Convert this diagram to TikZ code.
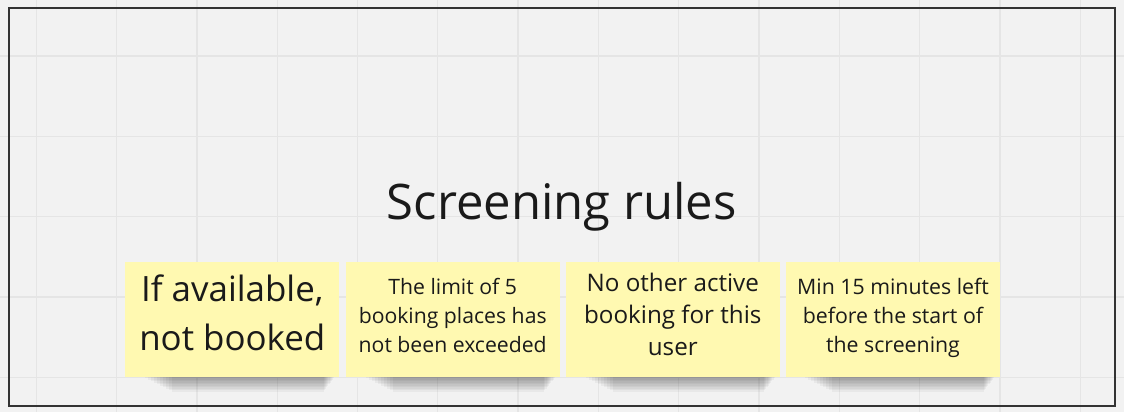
\documentclass[tikz,border=0pt]{standalone}
\usepackage{fontspec}
\setmainfont{Open Sans}

\definecolor{boardbg}{RGB}{242,242,242}
\definecolor{gridline}{RGB}{229,229,229}
\definecolor{framecol}{RGB}{51,51,51}
\definecolor{stickyyellow}{RGB}{255,249,177}
\definecolor{inkcol}{RGB}{26,26,26}

\tikzset{
  sticky/.style={fill=stickyyellow, minimum width=214pt, minimum height=115pt, inner sep=0pt},
  stickytext/.style={anchor=north, inner sep=0pt, align=center, text=inkcol},
}

\begin{document}
\begin{tikzpicture}[x=1pt,y=1pt,yscale=-1,xscale=1]
\useasboundingbox (0,0) rectangle (1124,412);

%Shape: Rectangle (board)
\fill[boardbg] (0,0) rectangle (1124,412);
%Shape: Grid
\foreach \gx in {0,...,13}
  \draw[gridline, line width=1.3pt] (36.3+\gx*80.3,0) -- (36.3+\gx*80.3,412);
\foreach \gy in {0,...,4}
  \draw[gridline, line width=1.3pt] (0,56+\gy*80.3) -- (1124,56+\gy*80.3);

%Shape: Rectangle (frame)
\draw[framecol, line width=2pt] (8.5,8.3) rectangle (1115,405.5);

%Shape: Shadows under the notes
\foreach \sx in {125.3,346,565.7,785.3}
  \foreach \k in {0,...,9}
    \fill[black, opacity=0.04] (\sx+20+\k*3,371) rectangle (\sx+209-\k*1.2,378+\k*1.5);

%Shape: Rectangle
\node[sticky] (note1) at (232.3,319.3) {};
%Shape: Rectangle
\node[sticky] (note2) at (452.7,319) {};
%Shape: Rectangle
\node[sticky] (note3) at (672.8,319.5) {};
%Shape: Rectangle
\node[sticky] (note4) at (893,319.5) {};

% Text Node
\node[anchor=base, inner sep=0pt, text=inkcol, font=\fontsize{49}{58}\selectfont] (title) at (561.7,219.3) {Screening rules};
% Text Node
\node[stickytext, font=\fontsize{34.9}{49.3}\selectfont] (note1text) at (232.3,274.2) {If available,\\not booked};
% Text Node
\node[stickytext, font=\fontsize{21.2}{29.3}\selectfont] (note2text) at (452.7,277.9) {The limit of 5\\booking places has\\not been exceeded};
% Text Node
\node[stickytext, font=\fontsize{24.2}{31.7}\selectfont] (note3text) at (672.8,273.3) {No other active\\booking for this\\user};
% Text Node
\node[stickytext, font=\fontsize{21.3}{29}\selectfont] (note4text) at (893,278.1) {Min 15 minutes left\\before the start of\\the screening};

\end{tikzpicture}
\end{document}
